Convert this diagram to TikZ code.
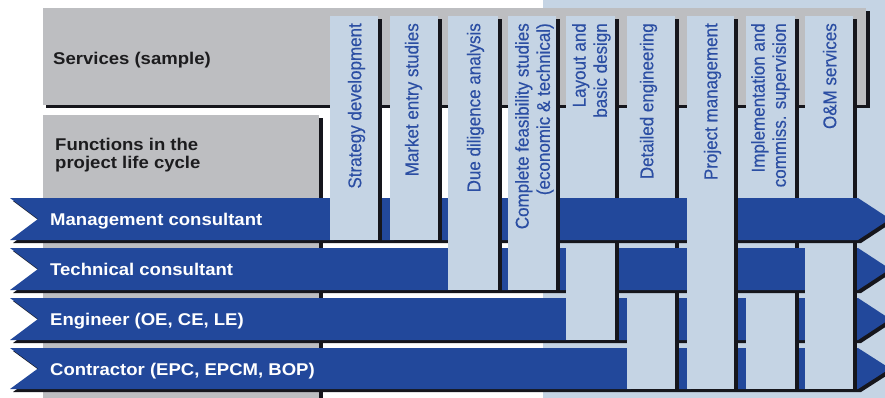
\documentclass[tikz,border=0pt]{standalone}
\usepackage{fontspec}
\setmainfont{Liberation Sans}
\newfontfamily\colfont[FakeBold=0.35]{Liberation Sans}
\usepackage{graphicx}
\definecolor{grayb}{RGB}{189,190,193}
\definecolor{lightb}{RGB}{197,212,228}
\definecolor{blueb}{RGB}{34,72,155}
\definecolor{textblue}{RGB}{43,78,163}
\definecolor{shadowc}{RGB}{22,22,28}
\definecolor{headtext}{RGB}{28,28,30}
\newcommand{\rowarrow}[2]{%
  \fill[shadowc,xshift=3pt,yshift=-3pt] (10,#1) -- (858,#1) -- (890,{(#1+#2)/2}) -- (858,#2) -- (10,#2) -- (38,{(#1+#2)/2}) -- cycle;
  \fill[blueb] (10,#1) -- (858,#1) -- (890,{(#1+#2)/2}) -- (858,#2) -- (10,#2) -- (38,{(#1+#2)/2}) -- cycle;
}
\newcommand{\colbar}[3]{%
  \fill[shadowc] ({#1+3.5},19) rectangle ({#2+3.5},{#3+3});
  \fill[lightb] (#1,16) rectangle (#2,#3);
}
\newcommand{\vtext}[1]{\scalebox{1}[1.09]{\begin{tabular}{@{}r@{}}#1\end{tabular}}}
\newcommand{\htext}[1]{\scalebox{1.09}[1]{#1}}
\tikzset{
  coltext/.style={rotate=90, anchor=east, inner sep=0pt, text=textblue,
    font=\colfont\fontsize{17}{19.5}\selectfont},
  rowtext/.style={anchor=base west, inner sep=0pt, text=white,
    font=\fontsize{17}{20}\selectfont\bfseries},
  headlabel/.style={anchor=base west, inner sep=0pt, text=headtext,
    font=\fontsize{17}{18}\selectfont\bfseries}
}
\begin{document}
\begin{tikzpicture}[x=1pt,y=-1pt]
\useasboundingbox (0,0) rectangle (885,398);
\begin{scope}
\clip (0,0) rectangle (885,398);
\fill[white] (0,0) rectangle (885,398);
\fill[lightb] (543,0) rectangle (885,398);
% header boxes
\fill[shadowc] (46,11.5) rectangle (869.5,108);
\fill[grayb] (43,8) rectangle (866,105);
\fill[shadowc] (46,118) rectangle (322.5,401);
\fill[grayb] (43,115) rectangle (319,401);
% woven layers
\rowarrow{348}{389}
\rowarrow{298}{340}
\colbar{627}{675}{389}
\colbar{746}{795}{389}
\rowarrow{248}{290}
\colbar{566}{615}{340}
\colbar{805}{853}{389}
\rowarrow{198}{240}
\colbar{330}{378}{240}
\colbar{390}{438}{240}
\colbar{448}{498}{290}
\colbar{508}{556}{290}
\colbar{687}{734}{389}
\end{scope}
% header texts
\node[headlabel] (services) at (53,65) {\htext{Services (sample)}};
\node[headlabel] (functions) at (55,150) {\htext{\begin{tabular}[t]{@{}l@{}}Functions in the\\ project life cycle\end{tabular}}};
% row texts
\node[rowtext] (mc) at (50,225) {\htext{Management consultant}};
\node[rowtext] (tc) at (50,275) {\htext{Technical consultant}};
\node[rowtext] (en) at (50,325) {\htext{Engineer (OE, CE, LE)}};
\node[rowtext] (co) at (50,375) {\htext{Contractor (EPC, EPCM, BOP)}};
% column texts
\node[coltext] (c1) at (357,23) {\vtext{Strategy development}};
\node[coltext] (c2) at (414,23) {\vtext{Market entry studies}};
\node[coltext] (c3) at (476,23) {\vtext{Due diligence analysis}};
\node[coltext] (c4) at (535,23) {\vtext{Complete feasibility studies\\ (economic \& technical)}};
\node[coltext] (c5) at (592,23) {\vtext{Layout and\\ basic design}};
\node[coltext] (c6) at (649,23) {\vtext{Detailed engineering}};
\node[coltext] (c7) at (713,23) {\vtext{Project management}};
\node[coltext] (c8) at (771,23) {\vtext{Implementation and\\ commiss. supervision}};
\node[coltext] (c9) at (832,23) {\vtext{O\&M services}};
\end{tikzpicture}
\end{document}
